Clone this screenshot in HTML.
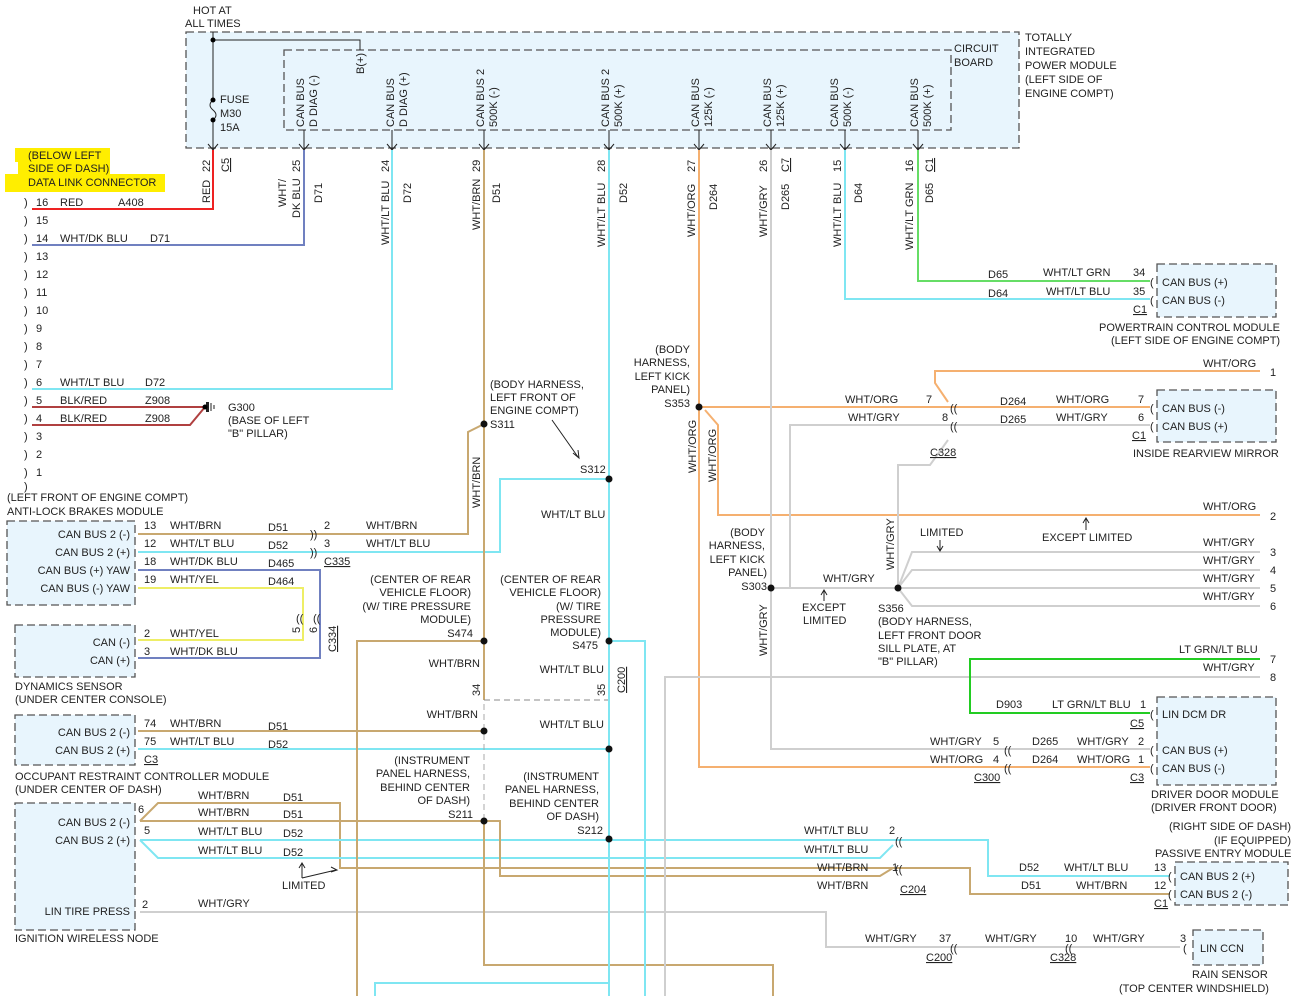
<!DOCTYPE html>
<html><head><meta charset="utf-8"><style>
body{margin:0;background:#fff}
svg{display:block}
text{font-family:"Liberation Sans",sans-serif;font-size:11px;fill:#222}
.box{fill:#e8f5fd;stroke:#555;stroke-width:1.3;stroke-dasharray:8 4}
.w{fill:none;stroke-width:2}
.tan{stroke:#c8a870}.cy{stroke:#7fe6f2}.db{stroke:#7080c0}.or{stroke:#f5b070}.gy{stroke:#cfcfcf}.gr{stroke:#66dd66}.ye{stroke:#eeee66}.rd{stroke:#ee2222}.lg{stroke:#22cc22}
.u{text-decoration:underline}
</style></head><body>
<svg width="1303" height="996" viewBox="0 0 1303 996" xmlns="http://www.w3.org/2000/svg">
<!-- TIPM -->
<rect class="box" x="186" y="32" width="833" height="116"/>
<rect class="box" x="284" y="50" width="667" height="80" style="fill:none"/>
<text x="193" y="14">HOT AT</text><text x="185" y="27">ALL TIMES</text>
<text x="954" y="52">CIRCUIT</text><text x="954" y="66">BOARD</text>
<text x="1025" y="41">TOTALLY</text><text x="1025" y="55">INTEGRATED</text><text x="1025" y="69">POWER MODULE</text><text x="1025" y="83">(LEFT SIDE OF</text><text x="1025" y="97">ENGINE COMPT)</text>
<path d="M213 32V98 M213 122V150 M213 40H360V50" stroke="#222" fill="none"/>
<path d="M213 100 q-6 5 0 10 q6 5 0 10" stroke="#222" fill="none"/>
<circle cx="213" cy="40" r="2.5"/><circle cx="213" cy="100" r="2.5"/><circle cx="213" cy="120" r="2.5"/>
<text x="220" y="103">FUSE</text><text x="220" y="117">M30</text><text x="220" y="131">15A</text>
<text transform="translate(364,74) rotate(-90)">B(+)</text>
<g stroke="#222" fill="none">
<path d="M304 130V150 M392 130V150 M484 130V150 M609 130V150 M699 130V150 M771 130V150 M845 130V150 M918 130V150"/>
<path d="M208 144l5 6 5-6 M299 144l5 6 5-6 M387 144l5 6 5-6 M479 144l5 6 5-6 M604 144l5 6 5-6 M694 144l5 6 5-6 M766 144l5 6 5-6 M840 144l5 6 5-6 M913 144l5 6 5-6"/>
</g>
<g>
<text transform="translate(304,127) rotate(-90)">CAN BUS</text><text transform="translate(317,127) rotate(-90)">D DIAG (-)</text>
<text transform="translate(394,127) rotate(-90)">CAN BUS</text><text transform="translate(407,127) rotate(-90)">D DIAG (+)</text>
<text transform="translate(484,127) rotate(-90)">CAN BUS 2</text><text transform="translate(497,127) rotate(-90)">500K (-)</text>
<text transform="translate(609,127) rotate(-90)">CAN BUS 2</text><text transform="translate(622,127) rotate(-90)">500K (+)</text>
<text transform="translate(699,127) rotate(-90)">CAN BUS</text><text transform="translate(712,127) rotate(-90)">125K (-)</text>
<text transform="translate(771,127) rotate(-90)">CAN BUS</text><text transform="translate(784,127) rotate(-90)">125K (+)</text>
<text transform="translate(838,127) rotate(-90)">CAN BUS</text><text transform="translate(851,127) rotate(-90)">500K (-)</text>
<text transform="translate(918,127) rotate(-90)">CAN BUS</text><text transform="translate(931,127) rotate(-90)">500K (+)</text>
</g>
<g>
<text transform="translate(210,172) rotate(-90)">22</text><text transform="translate(210,203) rotate(-90)">RED</text><text class="u" transform="translate(229,172) rotate(-90)">C5</text>
<text transform="translate(300,172) rotate(-90)">25</text><text transform="translate(286,207) rotate(-90)">WHT/</text><text transform="translate(300,218) rotate(-90)">DK BLU</text><text transform="translate(322,203) rotate(-90)">D71</text>
<text transform="translate(389,172) rotate(-90)">24</text><text transform="translate(389,245) rotate(-90)">WHT/LT BLU</text><text transform="translate(411,203) rotate(-90)">D72</text>
<text transform="translate(480,172) rotate(-90)">29</text><text transform="translate(480,230) rotate(-90)">WHT/BRN</text><text transform="translate(500,203) rotate(-90)">D51</text>
<text transform="translate(605,172) rotate(-90)">28</text><text transform="translate(605,247) rotate(-90)">WHT/LT BLU</text><text transform="translate(627,203) rotate(-90)">D52</text>
<text transform="translate(695,172) rotate(-90)">27</text><text transform="translate(695,237) rotate(-90)">WHT/ORG</text><text transform="translate(717,210) rotate(-90)">D264</text>
<text transform="translate(767,172) rotate(-90)">26</text><text transform="translate(767,237) rotate(-90)">WHT/GRY</text><text transform="translate(789,210) rotate(-90)">D265</text><text class="u" transform="translate(789,172) rotate(-90)">C7</text>
<text transform="translate(841,172) rotate(-90)">15</text><text transform="translate(841,247) rotate(-90)">WHT/LT BLU</text><text transform="translate(862,203) rotate(-90)">D64</text>
<text transform="translate(913,172) rotate(-90)">16</text><text transform="translate(913,250) rotate(-90)">WHT/LT GRN</text><text transform="translate(933,203) rotate(-90)">D65</text><text class="u" transform="translate(933,172) rotate(-90)">C1</text>
</g>
<!-- DLC -->
<rect x="15" y="148" width="95" height="14" fill="#ffee00"/><rect x="18" y="161" width="92" height="14" fill="#ffee00"/><rect x="5" y="174" width="160" height="18" fill="#ffee00"/>
<text x="28" y="159">(BELOW LEFT</text><text x="28" y="172">SIDE OF DASH)</text><text x="28" y="186">DATA LINK CONNECTOR</text>
<g font-size="12">
<text x="24" y="206">)</text><text x="24" y="224">)</text><text x="24" y="242">)</text><text x="24" y="260">)</text><text x="24" y="278">)</text><text x="24" y="296">)</text><text x="24" y="314">)</text><text x="24" y="332">)</text><text x="24" y="350">)</text><text x="24" y="368">)</text><text x="24" y="386">)</text><text x="24" y="404">)</text><text x="24" y="422">)</text><text x="24" y="440">)</text><text x="24" y="458">)</text><text x="24" y="476">)</text><text x="24" y="490">)</text>
</g>
<g>
<text x="36" y="206">16</text><text x="36" y="224">15</text><text x="36" y="242">14</text><text x="36" y="260">13</text><text x="36" y="278">12</text><text x="36" y="296">11</text><text x="36" y="314">10</text><text x="36" y="332">9</text><text x="36" y="350">8</text><text x="36" y="368">7</text><text x="36" y="386">6</text><text x="36" y="404">5</text><text x="36" y="422">4</text><text x="36" y="440">3</text><text x="36" y="458">2</text><text x="36" y="476">1</text>
<text x="60" y="206">RED</text><text x="118" y="206">A408</text>
<text x="60" y="242">WHT/DK BLU</text><text x="150" y="242">D71</text>
<text x="60" y="386">WHT/LT BLU</text><text x="145" y="386">D72</text>
<text x="60" y="404">BLK/RED</text><text x="145" y="404">Z908</text>
<text x="60" y="422">BLK/RED</text><text x="145" y="422">Z908</text>
</g>
<path class="w rd" d="M213 150V209H32"/>
<path class="w db" d="M304 150V245H32"/>
<path class="w cy" d="M392 150V389H32"/>
<path class="w" stroke="#b04040" d="M32 407H205M32 425H190L205 407"/>
<rect x="206" y="402" width="3" height="10" fill="#222"/><path d="M211 403v8M214 405v4" stroke="#222"/><circle cx="205" cy="407" r="2.5"/>
<text x="228" y="411">G300</text><text x="228" y="424">(BASE OF LEFT</text><text x="228" y="437">"B" PILLAR)</text>
<!-- ABS -->
<text x="7" y="501">(LEFT FRONT OF ENGINE COMPT)</text><text x="7" y="515">ANTI-LOCK BRAKES MODULE</text>
<rect class="box" x="7" y="521" width="128" height="84"/>
<text x="130" y="538" text-anchor="end">CAN BUS 2 (-)</text><text x="130" y="556" text-anchor="end">CAN BUS 2 (+)</text><text x="130" y="574" text-anchor="end">CAN BUS (+) YAW</text><text x="130" y="592" text-anchor="end">CAN BUS (-) YAW</text>
<text x="144" y="529">13</text><text x="170" y="529">WHT/BRN</text><text x="268" y="531">D51</text>
<text x="144" y="547">12</text><text x="170" y="547">WHT/LT BLU</text><text x="268" y="549">D52</text>
<text x="144" y="565">18</text><text x="170" y="565">WHT/DK BLU</text><text x="268" y="567">D465</text>
<text x="144" y="583">19</text><text x="170" y="583">WHT/YEL</text><text x="268" y="585">D464</text>
<text x="324" y="529">2</text><text x="324" y="547">3</text><text class="u" x="324" y="565">C335</text>
<text x="366" y="529">WHT/BRN</text><text x="366" y="547">WHT/LT BLU</text>
<path class="w tan" d="M138 534H468V432L484 424"/>
<path class="w cy" d="M138 552H500V479H609"/>
<path class="w db" d="M138 570H320V658H138"/>
<path class="w ye" d="M138 588H303V640H138"/>
<g font-size="12"><text x="310" y="538">))</text><text x="310" y="556">))</text><text x="296" y="622">((</text><text x="313" y="622">((</text></g>
<text transform="translate(300,633) rotate(-90)">5</text><text transform="translate(317,633) rotate(-90)">6</text><text class="u" transform="translate(336,652) rotate(-90)">C334</text>
<rect class="box" x="15" y="625" width="120" height="52"/>
<text x="130" y="646" text-anchor="end">CAN (-)</text><text x="130" y="664" text-anchor="end">CAN (+)</text>
<text x="144" y="637">2</text><text x="170" y="637">WHT/YEL</text><text x="144" y="655">3</text><text x="170" y="655">WHT/DK BLU</text>
<text x="15" y="690">DYNAMICS SENSOR</text><text x="15" y="703">(UNDER CENTER CONSOLE)</text>
<!-- ORC -->
<rect class="box" x="15" y="715" width="120" height="50"/>
<text x="130" y="736" text-anchor="end">CAN BUS 2 (-)</text><text x="130" y="754" text-anchor="end">CAN BUS 2 (+)</text>
<text x="144" y="727">74</text><text x="170" y="727">WHT/BRN</text><text x="268" y="730">D51</text>
<text x="144" y="745">75</text><text x="170" y="745">WHT/LT BLU</text><text x="268" y="748">D52</text>
<text class="u" x="144" y="763">C3</text>
<text x="15" y="780">OCCUPANT RESTRAINT CONTROLLER MODULE</text><text x="15" y="793">(UNDER CENTER OF DASH)</text>
<path class="w tan" d="M138 731H484"/><path class="w cy" d="M138 749H609"/>
<!-- IWN -->
<rect class="box" x="15" y="803" width="120" height="127"/>
<text x="130" y="826" text-anchor="end">CAN BUS 2 (-)</text><text x="130" y="844" text-anchor="end">CAN BUS 2 (+)</text><text x="130" y="915" text-anchor="end">LIN TIRE PRESS</text>
<text x="138" y="813">6</text><text x="144" y="834">5</text><text x="142" y="908">2</text>
<text x="15" y="942">IGNITION WIRELESS NODE</text>
<text x="198" y="799">WHT/BRN</text><text x="283" y="801">D51</text>
<text x="198" y="816">WHT/BRN</text><text x="283" y="818">D51</text>
<text x="198" y="835">WHT/LT BLU</text><text x="283" y="837">D52</text>
<text x="198" y="854">WHT/LT BLU</text><text x="283" y="856">D52</text>
<text x="198" y="907">WHT/GRY</text>
<text x="282" y="889">LIMITED</text>
<path d="M302 878V864M299 868l3-5 3 5M302 878L336 870M331 867l6 3-6 2" stroke="#222" fill="none"/>
<path class="w tan" d="M140 821L158 803H340V868H893"/>
<path class="w tan" d="M140 821H484"/>
<path class="w cy" d="M140 840H893"/>
<path class="w cy" d="M140 840L158 858H880L893 845"/>
<path class="w tan" d="M484 821H500V876H880L893 868"/>
<path class="w gy" d="M140 912H826V947H1180"/>
<!-- center verticals -->
<path class="w tan" d="M484 150V700"/>
<path d="M484 704V821" stroke="#aaa" stroke-dasharray="6 4" fill="none"/>
<path d="M484 700H609" stroke="#888" stroke-dasharray="6 4" fill="none"/>
<path class="w tan" d="M484 821V965H773V996"/>
<path class="w cy" d="M609 150V996"/>
<path class="w tan" d="M484 641H357V996"/>
<path class="w cy" d="M609 641H645V996"/>
<path class="w cy" d="M609 970V983H375V996"/>
<text transform="translate(480,696) rotate(-90)">34</text><text transform="translate(605,696) rotate(-90)">35</text><text class="u" transform="translate(625,693) rotate(-90)">C200</text>
<text x="490" y="428">S311</text>
<text x="490" y="388">(BODY HARNESS,</text><text x="490" y="401">LEFT FRONT OF</text><text x="490" y="414">ENGINE COMPT)</text>
<path d="M552 420L578 457M573 453l6 5-1-8" stroke="#222" fill="none"/>
<text x="580" y="473">S312</text>
<text x="541" y="518">WHT/LT BLU</text>
<text transform="translate(480,508) rotate(-90)">WHT/BRN</text>
<g text-anchor="end">
<text x="471" y="583">(CENTER OF REAR</text><text x="471" y="596">VEHICLE FLOOR)</text><text x="471" y="610">(W/ TIRE PRESSURE</text><text x="471" y="623">MODULE)</text><text x="473" y="637">S474</text>
<text x="601" y="583">(CENTER OF REAR</text><text x="601" y="596">VEHICLE FLOOR)</text><text x="601" y="610">(W/ TIRE</text><text x="601" y="623">PRESSURE</text><text x="601" y="636">MODULE)</text><text x="598" y="649">S475</text>
<text x="480" y="667">WHT/BRN</text><text x="604" y="673">WHT/LT BLU</text>
<text x="478" y="718">WHT/BRN</text><text x="604" y="728">WHT/LT BLU</text>
<text x="470" y="764">(INSTRUMENT</text><text x="470" y="777">PANEL HARNESS,</text><text x="470" y="791">BEHIND CENTER</text><text x="470" y="804">OF DASH)</text><text x="473" y="818">S211</text>
<text x="599" y="780">(INSTRUMENT</text><text x="599" y="793">PANEL HARNESS,</text><text x="599" y="807">BEHIND CENTER</text><text x="599" y="820">OF DASH)</text><text x="603" y="834">S212</text>
<text x="690" y="353">(BODY</text><text x="690" y="366">HARNESS,</text><text x="690" y="380">LEFT KICK</text><text x="690" y="393">PANEL)</text><text x="690" y="407">S353</text>
<text x="765" y="536">(BODY</text><text x="765" y="549">HARNESS,</text><text x="765" y="563">LEFT KICK</text><text x="767" y="576">PANEL)</text><text x="767" y="590">S303</text>
</g>
<!-- right side -->
<path class="w gr" d="M918 150V281H1150"/>
<path class="w cy" d="M845 150V299H1150"/>
<path class="w or" d="M699 150V767H1150"/>
<path class="w or" d="M699 407H1150"/>
<path class="w or" d="M705 410L718 425V515H1260"/>
<path class="w or" d="M948 402L935 383V371H1260"/>
<path class="w gy" d="M771 150V749H1150"/>
<path class="w gy" d="M790 588V425H1150"/>
<path class="w gy" d="M771 588H898V465H930L948 440"/>
<path class="w gy" d="M898 588L912 552H1260M898 588L912 570H1260M898 588H1260M898 588L912 606H1260"/>
<path class="w gy" d="M665 996V677H1260"/>
<path class="w lg" d="M1260 659H970V713H1150"/>
<path class="w cy" d="M893 840H988V876H1170"/>
<path class="w tan" d="M893 868H970V894H1170"/>
<g font-size="12">
<text x="950" y="412">((</text><text x="950" y="430">((</text><text x="1004" y="754">((</text><text x="1004" y="772">((</text><text x="895" y="845">((</text><text x="895" y="873">((</text><text x="950" y="952">((</text><text x="1065" y="952">((</text>
<text x="1150" y="286">(</text><text x="1150" y="304">(</text><text x="1150" y="412">(</text><text x="1150" y="430">(</text><text x="1150" y="718">(</text><text x="1150" y="754">(</text><text x="1150" y="772">(</text><text x="1168" y="880">(</text><text x="1168" y="898">(</text><text x="1183" y="952">(</text>
</g>
<rect class="box" x="1157" y="264" width="119" height="53"/>
<text x="1162" y="286">CAN BUS (+)</text><text x="1162" y="304">CAN BUS (-)</text>
<text x="988" y="278">D65</text><text x="1043" y="276">WHT/LT GRN</text><text x="1133" y="276">34</text>
<text x="988" y="297">D64</text><text x="1046" y="295">WHT/LT BLU</text><text x="1133" y="295">35</text><text class="u" x="1133" y="313">C1</text>
<text x="1099" y="331">POWERTRAIN CONTROL MODULE</text><text x="1111" y="344">(LEFT SIDE OF ENGINE COMPT)</text>
<text x="1203" y="367">WHT/ORG</text><text x="1270" y="376">1</text>
<text x="845" y="403">WHT/ORG</text><text x="926" y="403">7</text><text x="848" y="421">WHT/GRY</text><text x="942" y="421">8</text>
<text x="1000" y="405">D264</text><text x="1056" y="403">WHT/ORG</text><text x="1138" y="403">7</text>
<text x="1000" y="423">D265</text><text x="1056" y="421">WHT/GRY</text><text x="1138" y="421">6</text><text class="u" x="1132" y="439">C1</text>
<text class="u" x="930" y="456">C328</text>
<rect class="box" x="1157" y="390" width="119" height="52"/>
<text x="1162" y="412">CAN BUS (-)</text><text x="1162" y="430">CAN BUS (+)</text>
<text x="1133" y="457">INSIDE REARVIEW MIRROR</text>
<text x="1203" y="510">WHT/ORG</text><text x="1270" y="520">2</text>
<text x="1042" y="541">EXCEPT LIMITED</text><path d="M1086 530V519M1083 523l3-5 3 5" stroke="#222" fill="none"/>
<text x="920" y="536">LIMITED</text><path d="M940 540V550M937 546l3 5 3-5" stroke="#222" fill="none"/>
<text transform="translate(894,570) rotate(-90)">WHT/GRY</text>
<text transform="translate(696,473) rotate(-90)">WHT/ORG</text><text transform="translate(716,482) rotate(-90)">WHT/ORG</text>
<text transform="translate(767,656) rotate(-90)">WHT/GRY</text>
<text x="1203" y="546">WHT/GRY</text><text x="1270" y="556">3</text>
<text x="1203" y="564">WHT/GRY</text><text x="1270" y="574">4</text>
<text x="1203" y="582">WHT/GRY</text><text x="1270" y="592">5</text>
<text x="1203" y="600">WHT/GRY</text><text x="1270" y="610">6</text>
<text x="823" y="582">WHT/GRY</text>
<text x="802" y="611">EXCEPT</text><text x="803" y="624">LIMITED</text><path d="M824 601V591M821 595l3-5 3 5" stroke="#222" fill="none"/>
<text x="878" y="612">S356</text><text x="878" y="625">(BODY HARNESS,</text><text x="878" y="639">LEFT FRONT DOOR</text><text x="878" y="652">SILL PLATE, AT</text><text x="878" y="665">"B" PILLAR)</text>
<text x="1179" y="653">LT GRN/LT BLU</text><text x="1270" y="663">7</text>
<text x="1203" y="671">WHT/GRY</text><text x="1270" y="681">8</text>
<text x="996" y="708">D903</text><text x="1052" y="708">LT GRN/LT BLU</text><text x="1140" y="708">1</text><text class="u" x="1130" y="727">C5</text>
<rect class="box" x="1157" y="697" width="119" height="88"/>
<text x="1162" y="718">LIN DCM DR</text><text x="1162" y="754">CAN BUS (+)</text><text x="1162" y="772">CAN BUS (-)</text>
<text x="930" y="745">WHT/GRY</text><text x="993" y="745">5</text><text x="1032" y="745">D265</text><text x="1077" y="745">WHT/GRY</text><text x="1138" y="745">2</text>
<text x="930" y="763">WHT/ORG</text><text x="993" y="763">4</text><text x="1032" y="763">D264</text><text x="1077" y="763">WHT/ORG</text><text x="1138" y="763">1</text>
<text class="u" x="974" y="781">C300</text><text class="u" x="1130" y="781">C3</text>
<text x="1151" y="798">DRIVER DOOR MODULE</text><text x="1151" y="811">(DRIVER FRONT DOOR)</text>
<text x="1169" y="830">(RIGHT SIDE OF DASH)</text><text x="1214" y="844">(IF EQUIPPED)</text><text x="1155" y="857">PASSIVE ENTRY MODULE</text>
<text x="804" y="834">WHT/LT BLU</text><text x="889" y="834">2</text>
<text x="804" y="853">WHT/LT BLU</text>
<text x="817" y="871">WHT/BRN</text><text x="892" y="871">1</text>
<text x="817" y="889">WHT/BRN</text><text class="u" x="900" y="893">C204</text>
<text x="1019" y="871">D52</text><text x="1064" y="871">WHT/LT BLU</text><text x="1154" y="871">13</text>
<text x="1021" y="889">D51</text><text x="1076" y="889">WHT/BRN</text><text x="1154" y="889">12</text><text class="u" x="1154" y="907">C1</text>
<rect class="box" x="1175" y="862" width="113" height="43"/>
<text x="1180" y="880">CAN BUS 2 (+)</text><text x="1180" y="898">CAN BUS 2 (-)</text>
<text x="865" y="942">WHT/GRY</text><text x="939" y="942">37</text><text class="u" x="926" y="961">C200</text>
<text x="985" y="942">WHT/GRY</text><text x="1065" y="942">10</text><text class="u" x="1050" y="961">C328</text>
<text x="1093" y="942">WHT/GRY</text><text x="1180" y="942">3</text>
<rect class="box" x="1193" y="930" width="70" height="35"/>
<text x="1200" y="952">LIN CCN</text>
<text x="1192" y="978">RAIN SENSOR</text><text x="1119" y="992">(TOP CENTER WINDSHIELD)</text>
<g fill="#111" stroke="none"><circle cx="484" cy="424" r="3.5"/><circle cx="609" cy="479" r="3.5"/><circle cx="484" cy="641" r="3.5"/><circle cx="609" cy="641" r="3.5"/><circle cx="484" cy="731" r="3.5"/><circle cx="609" cy="749" r="3.5"/><circle cx="484" cy="821" r="3.5"/><circle cx="609" cy="839" r="3.5"/><circle cx="699" cy="407" r="3.5"/><circle cx="771" cy="588" r="3.5"/><circle cx="898" cy="588" r="3.5"/></g>
</svg>
</body></html>
